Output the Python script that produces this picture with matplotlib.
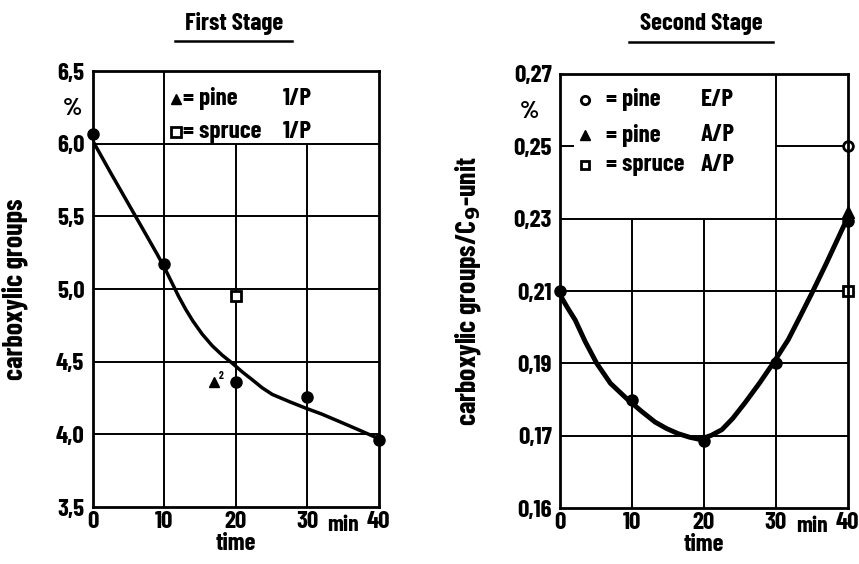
import numpy as np
import matplotlib.pyplot as plt
from matplotlib.lines import Line2D

# Первая стадия (First Stage)
t1 = [0, 10, 20, 30, 40]
c1 = [6.07, 5.17, 4.36, 4.26, 3.96]
# сглаженная кривая
curve1_t = [0, 2.5, 5.0, 7.5, 9.0, 10.0, 11.0, 12.0, 13.0, 14.0, 15.3, 16.7, 18.1, 19.5,
            20.9, 22.3, 23.7, 25.1, 27.5, 29.8, 32.0, 34.4, 37.0, 40.0]
curve1_c = [6.02, 5.80, 5.585, 5.37, 5.24, 5.15, 5.05, 4.95, 4.86, 4.78, 4.69, 4.61,
            4.545, 4.49, 4.43, 4.376, 4.32, 4.275, 4.225, 4.18, 4.14, 4.09, 4.035, 3.97]
pine1 = (16.9, 4.36)
spruce1 = (20, 4.95)

# Вторая стадия (Second Stage)
t2 = [0, 10, 20, 30, 40]
c2 = [0.210, 0.180, 0.1693, 0.190, 0.2294]
curve2_t = [0, 1.0, 2.1, 3.5, 5.1, 7.0, 9.3, 11.3, 13.2, 14.8, 16.4, 18.0, 19.4, 21.0,
            22.5, 24.0, 25.7, 27.7, 29.6, 31.7, 33.3, 35.0, 37.0, 38.5, 40.0]
curve2_c = [0.2089, 0.2055, 0.202, 0.196, 0.190, 0.1845, 0.1802, 0.1768, 0.1738, 0.172,
            0.1706, 0.1698, 0.1695, 0.1701, 0.1717, 0.1748, 0.1791, 0.1845, 0.190, 0.1965,
            0.2027, 0.2094, 0.2176, 0.2240, 0.2304]
pineE = (40, 0.250)
pineA = (40, 0.2317)
spruceA = (40, 0.210)

yt1 = [3.5, 4.0, 4.5, 5.0, 5.5, 6.0, 6.5]
yl1 = ['3,5', '4,0', '4,5', '5,0', '5,5', '6,0', '6,5']
yt2 = [0.16, 0.17, 0.19, 0.21, 0.23, 0.25, 0.27]
yl2 = ['0,16', '0,17', '0,19', '0,21', '0,23', '0,25', '0,27']
xt = [0, 10, 20, 30, 40]

plt.rcParams['font.family'] = ['Barlow Condensed', 'DejaVu Sans']
plt.rcParams['font.weight'] = 'bold'
plt.rcParams['axes.labelweight'] = 'bold'

fig = plt.figure(figsize=(8.59, 5.64), dpi=100)
ax1 = fig.add_axes([0.108, 0.101, 0.333, 0.773])
ax2 = fig.add_axes([0.652, 0.099, 0.335, 0.770])

LW_GRID = 1.4
fs = 18


def fwd(y):
    y = np.asarray(y, dtype=float)
    return np.where(y >= 0.17, 1 + (y - 0.17) / 0.02, (y - 0.16) / 0.01)


def inv(p):
    p = np.asarray(p, dtype=float)
    return np.where(p >= 1, 0.17 + (p - 1) * 0.02, 0.16 + p * 0.01)


ax2.set_yscale('function', functions=(fwd, inv))

for ax in (ax1, ax2):
    ax.set_xlim(0, 40)
    for s in ax.spines.values():
        s.set_linewidth(2)
    ax.tick_params(length=0, labelsize=fs, pad=6)
    ax.tick_params(axis='x', pad=3)
    ax.set_xticks(xt)
    ax.set_xticklabels([str(v) for v in xt])
    ax.set_xlabel('time', fontsize=18, labelpad=0)
    ax.text(35, -0.042, 'min', transform=ax.get_xaxis_transform(),
            ha='center', va='center', fontsize=17)

# --- левый график ---
ax1.set_ylim(3.5, 6.5)
ax1.set_yticks(yt1)
ax1.set_yticklabels(yl1)
for y in [4.0, 4.5, 5.0, 5.5, 6.0]:
    ax1.axhline(y, color='k', lw=LW_GRID)
ax1.axvline(10, color='k', lw=LW_GRID)
for x in [20, 30]:
    ax1.vlines(x, 3.5, 6.0, color='k', lw=LW_GRID)
ax1.plot(curve1_t, curve1_c, color='k', lw=2.5)
ax1.plot(t1, c1, 'o', color='k', ms=8, clip_on=False)
ax1.plot(*pine1, '^', color='k', ms=7)
ax1.text(pine1[0] + 0.7, pine1[1] + 0.02, '2', fontsize=8)
ax1.plot(*spruce1, 's', mfc='white', mec='k', mew=2, ms=7)
ax1.plot(11.6, 6.31, '^', color='k', ms=7)
ax1.plot(11.6, 6.08, 's', mfc='white', mec='k', mew=2, ms=7)
ax1.text(12.6, 6.31, '= pine', fontsize=fs, va='center')
ax1.text(12.6, 6.08, '= spruce', fontsize=fs, va='center')
ax1.text(26.6, 6.31, '1/P', fontsize=fs, va='center')
ax1.text(26.6, 6.08, '1/P', fontsize=fs, va='center')
ax1.text(-2.9, 6.24, '%', fontsize=fs, ha='center', va='center')
ax1.set_ylabel('carboxylic groups', fontsize=20, labelpad=20)

# --- правый график ---
ax2.set_ylim(0.16, 0.27)
ax2.set_yticks(yt2)
ax2.set_yticklabels(yl2)
ax2.yaxis.set_minor_locator(plt.NullLocator())
for y in [0.17, 0.19, 0.21]:
    ax2.axhline(y, color='k', lw=LW_GRID)
ax2.hlines(0.23, 0, 40, color='k', lw=LW_GRID)
ax2.hlines(0.25, 30, 40, color='k', lw=LW_GRID)
ax2.hlines(0.25, 0, 1.9, color='k', lw=LW_GRID)
ax2.axvline(30, color='k', lw=LW_GRID)
for x in [10, 20]:
    ax2.vlines(x, 0.16, 0.23, color='k', lw=LW_GRID)
ax2.plot(curve2_t, curve2_c, color='k', lw=3.5)
ax2.plot(t2, c2, 'o', color='k', ms=8, clip_on=False)
ax2.plot(*pineE, 'o', mfc='white', mec='k', mew=2, ms=7, clip_on=False)
ax2.plot(*pineA, '^', color='k', ms=8, clip_on=False)
ax2.plot(*spruceA, 's', mfc='white', mec='k', mew=2, ms=7, clip_on=False)
ax2.plot(3.5, 0.2628, 'o', mfc='white', mec='k', mew=2, ms=6)
ax2.plot(3.5, 0.2530, '^', color='k', ms=7)
ax2.plot(3.5, 0.2447, 's', mfc='white', mec='k', mew=2, ms=6)
for y, a, b in [(0.2628, '= pine', 'E/P'), (0.2530, '= pine', 'A/P'),
                (0.2447, '= spruce', 'A/P')]:
    ax2.text(6.4, y, a, fontsize=fs, va='center')
    ax2.text(19.6, y, b, fontsize=fs, va='center')
ax2.text(-4.2, 0.2595, '%', fontsize=fs, ha='center', va='center')
ax2.set_ylabel('carboxylic groups/C$_\\mathbf{9}$-unit', fontsize=20, labelpad=22)

# заголовки с подчёркиванием
fig.text(0.272, 0.958, 'First Stage', fontsize=18, ha='center', va='center')
fig.text(0.816, 0.958, 'Second Stage', fontsize=18, ha='center', va='center')
fig.add_artist(Line2D([0.204, 0.340], [0.927, 0.927], color='k', lw=1.8))
fig.add_artist(Line2D([0.732, 0.900], [0.925, 0.925], color='k', lw=1.8))

fig.savefig('out.png', dpi=100)
